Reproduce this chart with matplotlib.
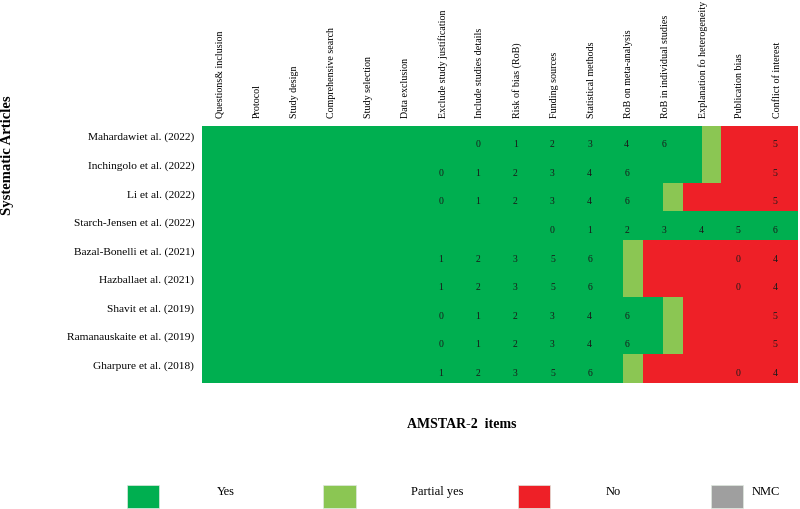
import numpy as np
import matplotlib
matplotlib.use("Agg")
import matplotlib.pyplot as plt
from matplotlib.patches import Rectangle

plt.rcParams['font.family'] = ['Liberation Serif', 'DejaVu Serif']

#### DATA ####
articles = ["Mahardawiet al. (2022)", "Inchingolo et al. (2022)", "Li et al. (2022)",
            "Starch-Jensen et al. (2022)", "Bazal-Bonelli et al. (2021)", "Hazballaet al. (2021)",
            "Shavit et al. (2019)", "Ramanauskaite et al. (2019)", "Gharpure et al. (2018)"]

items = ["Questions& inclusion", "Protocol", "Study design", "Comprehensive search",
         "Study selection", "Data exclusion", "Exclude study justification",
         "Include studies details", "Risk of bias (RoB)", "Funding sources",
         "Statistical methods", "RoB on meta-analysis", "RoB in individual studies",
         "Explanation fo heterogeneity", "Publication bias", "Conflict of interest"]

# where each row switches from Yes -> Partial yes -> No (item units)
yes_end = [12.97, 12.97, 11.92, 15.55, 10.85, 10.85, 11.92, 11.92, 10.85]
partial_end = [13.49, 13.49, 12.47, 15.55, 11.38, 11.38, 12.47, 12.47, 11.38]

# small numbers printed inside the cells ('' = nothing)
cell_text = [
    ['', '', '', '', '', '', '', '0', '1', '2', '3', '4', '6', '', '', '5'],
    ['', '', '', '', '', '', '0', '1', '2', '3', '4', '6', '', '', '', '5'],
    ['', '', '', '', '', '', '0', '1', '2', '3', '4', '6', '', '', '', '5'],
    ['', '', '', '', '', '', '', '', '', '0', '1', '2', '3', '4', '5', '6'],
    ['', '', '', '', '', '', '1', '2', '3', '5', '6', '', '', '', '0', '4'],
    ['', '', '', '', '', '', '1', '2', '3', '5', '6', '', '', '', '0', '4'],
    ['', '', '', '', '', '', '0', '1', '2', '3', '4', '6', '', '', '', '5'],
    ['', '', '', '', '', '', '0', '1', '2', '3', '4', '6', '', '', '', '5'],
    ['', '', '', '', '', '', '1', '2', '3', '5', '6', '', '', '', '0', '4'],
]

legend_names = ["Yes", "Partial yes", "No", "NMC"]

#### STYLE ####
c_yes = '#00AF50'
c_partial = '#8BC653'
c_no = '#EE2027'
c_nmc = '#9F9F9F'
legend_colors = [c_yes, c_partial, c_no, c_nmc]

W, H = 800, 509
fig = plt.figure(figsize=(W / 100, H / 100), dpi=100)

# plot area in pixels
px_left, px_right, px_top, px_bottom = 201.7, 797.5, 125.7, 382.7
ax = fig.add_axes([px_left / W, 1 - px_bottom / H, (px_right - px_left) / W, (px_bottom - px_top) / H])

x0, x1 = -0.493, 15.55
n = len(articles)
rows = np.arange(n)

ax.barh(rows, np.array(yes_end) - x0, left=x0, height=1.0, color=c_yes, linewidth=0)
ax.barh(rows, np.array(partial_end) - np.array(yes_end), left=yes_end, height=1.0,
        color=c_partial, linewidth=0)
ax.barh(rows, x1 - np.array(partial_end), left=partial_end, height=1.0, color=c_no, linewidth=0)

for i in range(n):
    for k, t in enumerate(cell_text[i]):
        if t:
            ax.text(k - 0.05, i + 0.17, t, ha='center', va='center', fontsize=7, color='#1a1a1a')

ax.set_xlim(x0, x1)
ax.set_ylim(n - 0.5, -0.5)

ax.xaxis.tick_top()
ax.set_xticks(np.arange(len(items)))
ax.set_xticklabels(items, rotation=90, fontsize=7.2)
ax.set_yticks(rows - 0.12)
ax.set_yticklabels(articles, fontsize=8.2)
ax.tick_params(axis='x', length=0, pad=5.5)
ax.tick_params(axis='y', length=0, pad=5.3)
for s in ax.spines.values():
    s.set_visible(False)

fig.text(8 / W, 1 - 155 / H, "Systematic Articles", rotation=90, fontsize=10.5,
         fontweight='bold', ha='center', va='center')
fig.text(462 / W, 1 - 425 / H, "AMSTAR-2  items", fontsize=10, fontweight='bold',
         ha='center', va='center')

#### LEGEND ####
patch_x = [126.7, 323.0, 517.7, 710.7]
text_x = [216.7, 410.7, 606.0, 751.7]
for name, col, pxp, pxt in zip(legend_names, legend_colors, patch_x, text_x):
    fig.patches.append(Rectangle((pxp / W, 1 - 508 / H), 32.6 / W, 23 / H,
                                 transform=fig.transFigure, facecolor=col,
                                 edgecolor='#dfe8df', linewidth=0.5))
    fig.text(pxt / W, 1 - 492 / H, name, fontsize=9, ha='left', va='center')

fig.savefig("out.png", dpi=100)
